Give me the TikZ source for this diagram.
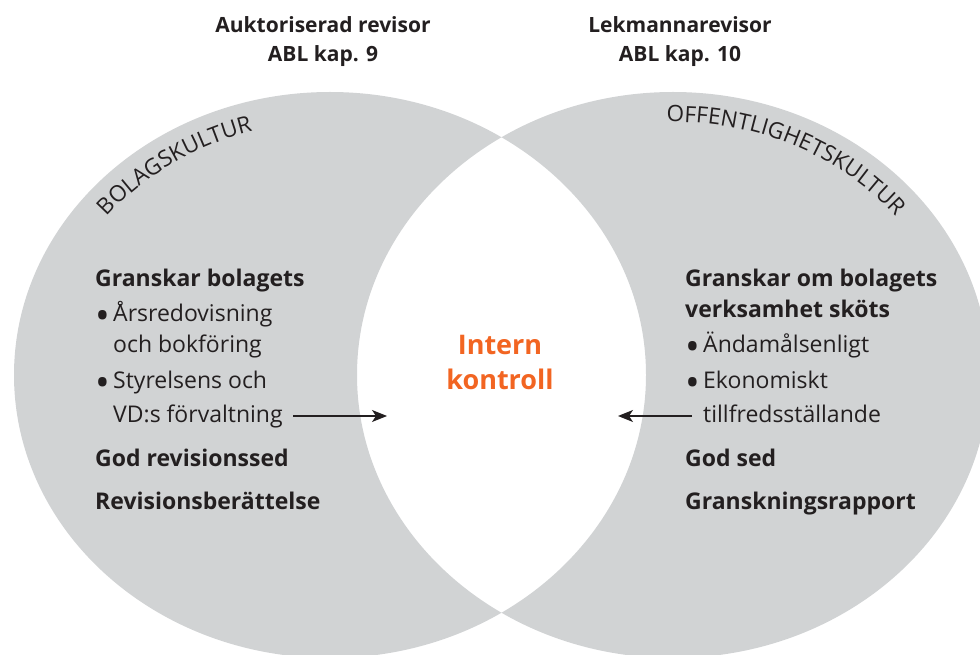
\documentclass[tikz,border=0pt]{standalone}
\usepackage{fontspec}
\setmainfont{Open Sans}
\usetikzlibrary{decorations.text,arrows.meta}
\definecolor{circgrey}{HTML}{D1D3D4}
\definecolor{txt}{HTML}{231F20}
\definecolor{orng}{HTML}{F26522}
\newcommand{\blt}{\makebox[18pt][l]{\raisebox{-0.34em}{\scalebox{1.7}{•}}}}
\begin{document}
\begin{tikzpicture}[x=1pt,y=1pt,
  bodyb/.style={anchor=base west, inner sep=0pt, text=txt, font=\fontsize{23}{28}\selectfont\bfseries},
  bodyr/.style={anchor=base west, inner sep=0pt, text=txt, font=\fontsize{23}{28}\selectfont},
  head/.style={anchor=base, inner sep=0pt, text=txt, font=\fontsize{21}{25}\selectfont\bfseries},
  center/.style={anchor=base, inner sep=0pt, text=orng, font=\fontsize{27}{32}\selectfont\bfseries},
  arr/.style={draw=txt, line width=1.2pt, -{Stealth[length=15pt,width=12pt,inset=4pt]}}
]
\useasboundingbox (0,0) rectangle (980,654);
\begin{scope}
  \clip (0,0) rectangle (980,654);
  \fill[circgrey, even odd rule]
    (330,279) ellipse [x radius=316, y radius=283]
    (673,279) ellipse [x radius=316, y radius=283];
\end{scope}

% headers
\node[head] (h1a) at (323,621) {Auktoriserad revisor};
\node[head] (h1b) at (323,592) {ABL kap. 9};
\node[head] (h2a) at (680,621) {Lekmannarevisor};
\node[head] (h2b) at (680,592) {ABL kap. 10};

% curved labels
\path[decorate, decoration={text along path, text align=center,
  text={|\color{txt}\fontsize{22.5}{22.5}\selectfont|BOLAGSKULTUR}}]
  ([shift={(330,279)}]165:286 and 253) arc[start angle=165, end angle=84, x radius=286, y radius=253];
\path[decorate, decoration={text along path, text align=center,
  text={|\color{txt}\fontsize{22.5}{22.5}\selectfont|OFFENTLIGHETSKULTUR}}]
  ([shift={(673,279)}]104:286 and 253) arc[start angle=104, end angle=25, x radius=286, y radius=253];

% left block
\node[bodyb] (l1) at (95,367) {Granskar bolagets};
\node[bodyr] (l2) at (95,332) {\blt Årsredovisning};
\node[bodyr] (l3) at (113,301) {och bokföring};
\node[bodyr] (l4) at (95,265) {\blt Styrelsens och};
\node[bodyr] (l5) at (113,232) {VD:s förvaltning};
\node[bodyb] (l6) at (95,188) {God revisionssed};
\node[bodyb] (l7) at (95,145) {Revisionsberättelse};

% right block
\node[bodyb] (r1) at (685,367) {Granskar om bolagets};
\node[bodyb] (r2) at (685,336) {verksamhet sköts};
\node[bodyr] (r3) at (685,301) {\blt Ändamålsenligt};
\node[bodyr] (r4) at (685,265) {\blt Ekonomiskt};
\node[bodyr] (r5) at (703,232) {tillfredsställande};
\node[bodyb] (r6) at (685,188) {God sed};
\node[bodyb] (r7) at (685,145) {Granskningsrapport};

% centre
\node[center] (c1) at (500,299) {Intern};
\node[center] (c2) at (500,264) {kontroll};

% arrows
\coordinate (la) at (293,238);
\coordinate (lb) at (387,238);
\coordinate (ra) at (692,238);
\coordinate (rb) at (618,238);
\draw[arr] (la) -- (lb);
\draw[arr] (ra) -- (rb);
\end{tikzpicture}
\end{document}
